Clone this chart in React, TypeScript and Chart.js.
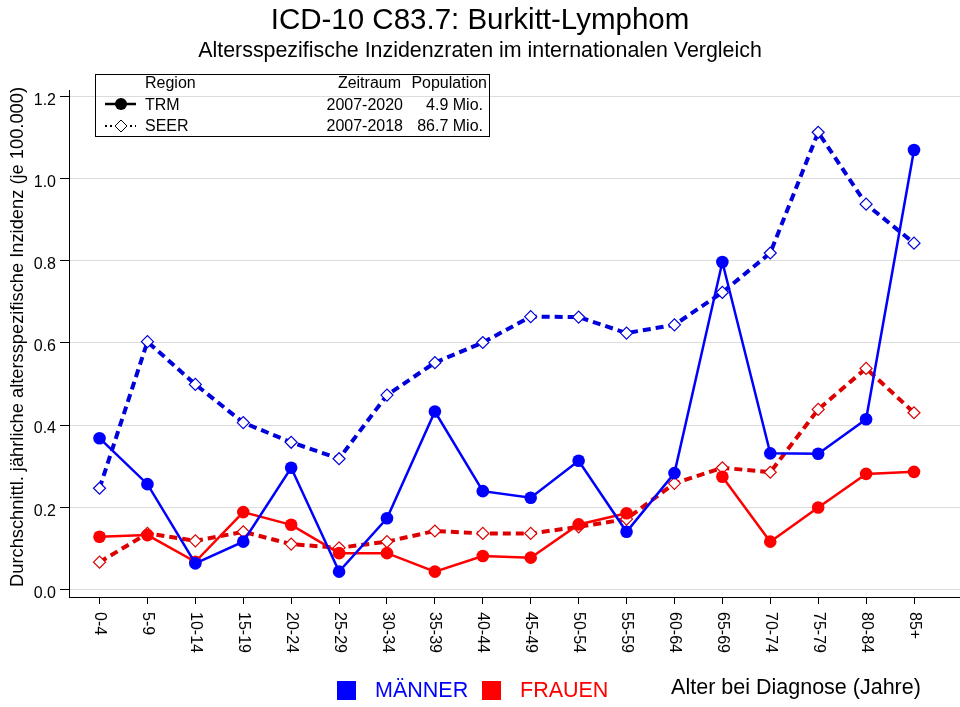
import React, { useEffect, useRef } from "react";
import { Chart, registerables } from "chart.js";

Chart.register(...registerables);

const ageGroups = ["0-4", "5-9", "10-14", "15-19", "20-24", "25-29", "30-34", "35-39", "40-44", "45-49", "50-54", "55-59", "60-64", "65-69", "70-74", "75-79", "80-84", "85+"];
const trmMen = [0.368, 0.256, 0.063, 0.116, 0.296, 0.043, 0.173, 0.433, 0.239, 0.223, 0.313, 0.140, 0.283, 0.797, 0.331, 0.330, 0.414, 1.070];
const trmWomen: (number | null)[] = [0.128, 0.132, 0.067, 0.188, 0.157, 0.088, 0.088, 0.043, 0.081, 0.077, 0.158, 0.185, null, 0.274, 0.116, 0.199, 0.281, 0.286];
const seerMen = [0.246, 0.603, 0.499, 0.406, 0.358, 0.318, 0.473, 0.552, 0.601, 0.664, 0.663, 0.624, 0.644, 0.723, 0.819, 1.113, 0.938, 0.843];
const seerWomen = [0.066, 0.136, 0.118, 0.140, 0.110, 0.101, 0.116, 0.142, 0.136, 0.136, 0.152, 0.171, 0.258, 0.296, 0.285, 0.438, 0.538, 0.430];
const yTicks = [0, 0.2, 0.4, 0.6, 0.8, 1.0, 1.2];
const yTickLabels = ["0.0", "0.2", "0.4", "0.6", "0.8", "1.0", "1.2"];

const FONT = '"Liberation Sans", Arial, Helvetica, sans-serif';
const BLUE = "#0000ff";
const RED = "#ff0000";
const BLUE_D = "#0000dd";
const RED_D = "#dd0000";

const toPts = (arr: (number | null)[]) => arr.map((v, i) => ({ x: i, y: v }));

const textPlugin = {
  id: "texts",
  afterDraw(chart: any) {
    const ctx = chart.ctx as CanvasRenderingContext2D;
    const xs = chart.scales.x;
    const ys = chart.scales.y;
    ctx.save();
    ctx.fillStyle = "#000";
    // Title
    ctx.textAlign = "center";
    ctx.textBaseline = "middle";
    ctx.font = `29.5px ${FONT}`;
    ctx.fillText("ICD-10 C83.7: Burkitt-Lymphom", 480, 21);
    ctx.font = `21.4px ${FONT}`;
    ctx.fillText("Altersspezifische Inzidenzraten im internationalen Vergleich", 480, 51);

    // Y tick labels
    ctx.font = `16px ${FONT}`;
    ctx.textAlign = "right";
    yTicks.forEach((v, i) => {
      ctx.fillText(yTickLabels[i], 56, ys.getPixelForValue(v) + 4);
    });

    // Y title
    ctx.save();
    ctx.translate(18, 337);
    ctx.rotate(-Math.PI / 2);
    ctx.textAlign = "center";
    ctx.textBaseline = "middle";
    ctx.font = `18.3px ${FONT}`;
    ctx.fillText("Durchschnittl. jährliche altersspezifische Inzidenz (je 100.000)", 0, 0);
    ctx.restore();

    // X tick labels rotated clockwise
    ageGroups.forEach((lab, i) => {
      const px = xs.getPixelForValue(i);
      ctx.save();
      ctx.translate(px, 612);
      ctx.rotate(Math.PI / 2);
      ctx.textAlign = "left";
      ctx.textBaseline = "middle";
      ctx.font = `16px ${FONT}`;
      ctx.fillText(lab, 0, 0);
      ctx.restore();
    });

    // Top-left legend box
    ctx.strokeStyle = "#000";
    ctx.lineWidth = 1;
    ctx.strokeRect(95.5, 74.5, 394, 62);
    ctx.font = `16px ${FONT}`;
    ctx.textBaseline = "middle";
    ctx.textAlign = "left";
    ctx.fillText("Region", 145, 84);
    ctx.fillText("TRM", 145, 106);
    ctx.fillText("SEER", 145, 127);
    ctx.textAlign = "right";
    ctx.fillText("Zeitraum", 401, 84);
    ctx.fillText("Population", 487, 84);
    ctx.fillText("2007-2020", 403, 106);
    ctx.fillText("2007-2018", 403, 127);
    ctx.fillText("4.9 Mio.", 483, 106);
    ctx.fillText("86.7 Mio.", 483, 127);
    // TRM sample
    ctx.lineWidth = 2.5;
    ctx.beginPath();
    ctx.moveTo(105, 104);
    ctx.lineTo(136, 104);
    ctx.stroke();
    ctx.beginPath();
    ctx.arc(121, 104, 6, 0, Math.PI * 2);
    ctx.fill();
    // SEER sample
    ctx.lineWidth = 2;
    ctx.setLineDash([2, 3]);
    ctx.beginPath();
    ctx.moveTo(105, 126);
    ctx.lineTo(136, 126);
    ctx.stroke();
    ctx.setLineDash([]);
    ctx.beginPath();
    ctx.moveTo(121, 120);
    ctx.lineTo(127, 126);
    ctx.lineTo(121, 132);
    ctx.lineTo(115, 126);
    ctx.closePath();
    ctx.fillStyle = "#fff";
    ctx.fill();
    ctx.lineWidth = 1;
    ctx.stroke();

    // Bottom legend
    ctx.fillStyle = BLUE;
    ctx.fillRect(337, 681, 19, 19);
    ctx.font = `21.5px ${FONT}`;
    ctx.textAlign = "left";
    ctx.textBaseline = "middle";
    ctx.fillText("MÄNNER", 375, 691);
    ctx.fillStyle = RED;
    ctx.fillRect(482, 681, 19, 19);
    ctx.fillText("FRAUEN", 520, 691);
    ctx.fillStyle = "#000";
    ctx.textAlign = "center";
    ctx.fillText("Alter bei Diagnose (Jahre)", 796, 688);
    ctx.restore();
  },
};

export default function App() {
  const ref = useRef<HTMLCanvasElement | null>(null);
  useEffect(() => {
    if (!ref.current) return;
    const chart = new Chart(ref.current, {
      type: "line",
      data: {
        datasets: [
          {
            label: "TRM Männer",
            data: toPts(trmMen),
            borderColor: BLUE,
            backgroundColor: BLUE,
            borderWidth: 2.5,
            pointRadius: 6.3,
            pointBorderWidth: 0,
            pointStyle: "circle",
            spanGaps: false,
          },
          {
            label: "TRM Frauen",
            data: toPts(trmWomen),
            borderColor: RED,
            backgroundColor: RED,
            borderWidth: 2.5,
            pointRadius: 6.3,
            pointBorderWidth: 0,
            pointStyle: "circle",
            spanGaps: false,
          },
          {
            label: "SEER Männer",
            data: toPts(seerMen),
            borderColor: BLUE_D,
            backgroundColor: "#ffffff",
            borderWidth: 4,
            borderDash: [8, 5],
            pointRadius: 6,
            pointBorderWidth: 1.2,
            pointBorderColor: BLUE_D,
            pointBackgroundColor: "#ffffff",
            pointStyle: "rectRot",
          },
          {
            label: "SEER Frauen",
            data: toPts(seerWomen),
            borderColor: RED_D,
            backgroundColor: "#ffffff",
            borderWidth: 4,
            borderDash: [8, 5],
            pointRadius: 6,
            pointBorderWidth: 1.2,
            pointBorderColor: RED_D,
            pointBackgroundColor: "#ffffff",
            pointStyle: "rectRot",
          },
        ],
      },
      options: {
        responsive: false,
        animation: false,
        layout: { padding: { top: 90, left: 0, right: 0, bottom: 0 }, autoPadding: false },
        plugins: {
          legend: { display: false },
          title: { display: false },
          tooltip: { enabled: false },
        },
        elements: { line: { tension: 0 } },
        scales: {
          x: {
            type: "linear",
            min: -0.637,
            max: 17.96,
            afterFit: (s: any) => {
              s.height = 110;
              s.paddingLeft = 0;
              s.paddingRight = 0;
            },
            afterBuildTicks: (s: any) => {
              s.ticks = ageGroups.map((_, i) => ({ value: i }));
            },
            ticks: { display: false },
            grid: { drawOnChartArea: false, drawTicks: true, tickLength: 7, tickColor: "#000", color: "#000" },
            border: { display: true, color: "#000", width: 1 },
          },
          y: {
            type: "linear",
            min: -0.0188,
            max: 1.216,
            afterFit: (s: any) => {
              s.width = 69;
              s.paddingTop = 0;
              s.paddingBottom = 0;
            },
            afterBuildTicks: (s: any) => {
              s.ticks = yTicks.map((v) => ({ value: v }));
            },
            ticks: { display: false },
            grid: { color: "#dcdcdc", lineWidth: 1, drawTicks: true, tickLength: 9, tickColor: "#000" },
            border: { display: true, color: "#000", width: 1 },
          },
        },
      },
      plugins: [textPlugin],
    });
    return () => chart.destroy();
  }, []);
  return (
    <div style={{ position: "absolute", left: 0, top: 0, width: 960, height: 707, background: "#fff" }}>
      <canvas ref={ref} width={960} height={707} style={{ display: "block" }} />
    </div>
  );
}
